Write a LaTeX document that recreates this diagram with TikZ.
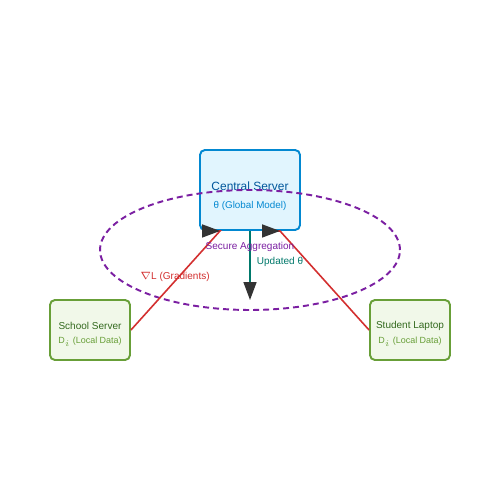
\documentclass[tikz,border=0pt]{standalone}
\usepackage{fontspec}
\setmainfont{Liberation Sans}
\usetikzlibrary{arrows.meta}
\definecolor{serverfill}{HTML}{E1F5FE}
\definecolor{serverdraw}{HTML}{0288D1}
\definecolor{servertext}{HTML}{01579B}
\definecolor{clientfill}{HTML}{F1F8E9}
\definecolor{clientdraw}{HTML}{689F38}
\definecolor{clienttext}{HTML}{33691E}
\definecolor{aggpurple}{HTML}{7B1FA2}
\definecolor{updteal}{HTML}{00796B}
\definecolor{gradred}{HTML}{D32F2F}
\definecolor{tipgray}{HTML}{333333}
\begin{document}
\begin{tikzpicture}[x=0.02cm, y=-0.02cm,
  server/.style = {shape=rectangle, rounded corners=2.8pt, draw=serverdraw,
    fill=serverfill, line width=1.1pt, minimum width=2cm, minimum height=1.6cm},
  client/.style = {shape=rectangle, rounded corners=2.8pt, draw=clientdraw,
    fill=clientfill, line width=1.1pt, minimum width=1.6cm, minimum height=1.2cm},
  tip/.style = {-{Triangle[length=0.36cm, width=0.26cm, fill=tipgray, color=tipgray]}},
  label/.style = {font=\fontsize{5.7}{7}\selectfont, inner sep=0pt}]
  \useasboundingbox[fill=white] (0,0) rectangle (500,500);
  \node[server] (central) at (250,190) {};
  \node[client] (school) at (90,330) {};
  \node[client] (laptop) at (410,330) {};
  % box texts
  \node[inner sep=0pt, text=servertext, font=\fontsize{6.8}{8}\selectfont]
    (centralname) at (250,186) {Central Server};
  \node[inner sep=0pt, text=serverdraw, font=\fontsize{5.6}{7}\selectfont]
    (centralsub) at (250,206) {θ (Global Model)};
  \node[inner sep=0pt, text=clienttext, font=\fontsize{5.7}{7}\selectfont]
    (schoolname) at (90,326) {School Server};
  \node[inner sep=0pt, text=clientdraw, font=\fontsize{5.1}{6}\selectfont]
    (schoolsub) at (90,342) {D$_i$ (Local Data)};
  \node[inner sep=0pt, text=clienttext, font=\fontsize{5.7}{7}\selectfont]
    (laptopname) at (410,326) {Student Laptop};
  \node[inner sep=0pt, text=clientdraw, font=\fontsize{5.1}{6}\selectfont]
    (laptopsub) at (410,342) {D$_i$ (Local Data)};
  % aggregation ring
  \draw[aggpurple, line width=1.1pt, dash pattern=on 3.4pt off 2.3pt]
    (250,250) ellipse [x radius=3cm, y radius=1.2cm];
  \coordinate (gl) at ([xshift=-0.6cm]central.south);
  \coordinate (gr) at ([xshift=0.6cm]central.south);
  \coordinate (down) at (250,300);
  % gradients up, model down
  \draw[gradred, line width=0.9pt, tip] (school.east) -- (gl) -- ++(0.05,0);
  \draw[gradred, line width=0.9pt, tip] (laptop.west) -- (gr) -- ++(0.05,0);
  \draw[updteal, line width=0.9pt, tip] (central.south) -- (down);
  \node[label, text=aggpurple] (agg) at (250,247) {Secure Aggregation};
  \node[label, text=updteal] (upd) at (280,262) {Updated θ};
  \node[label, text=gradred] (grad) at (175,277) {$\nabla$L (Gradients)};
\end{tikzpicture}
\end{document}
